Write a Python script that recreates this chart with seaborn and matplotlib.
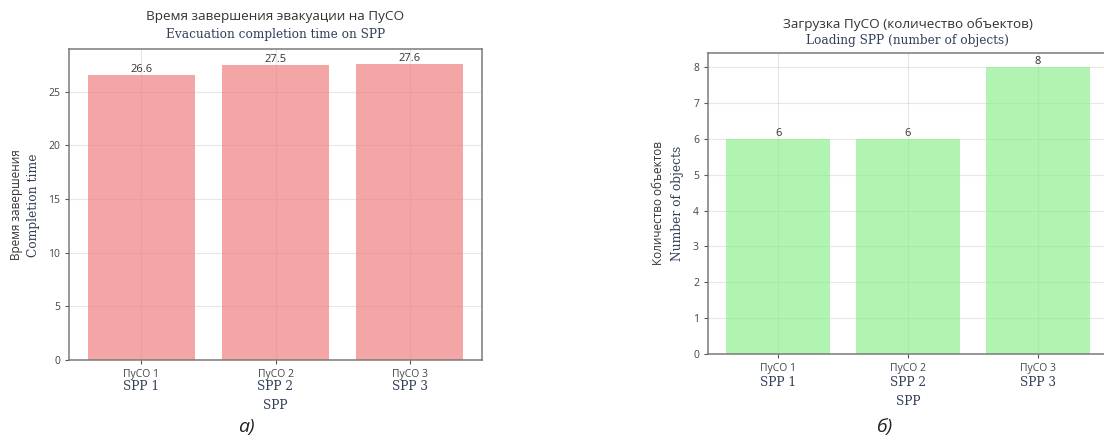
import matplotlib
matplotlib.use("Agg")
import matplotlib.pyplot as plt
import matplotlib.transforms as mtransforms
import seaborn as sns
import pandas as pd

# Data
spp_ru = ["ПуСО 1", "ПуСО 2", "ПуСО 3"]
spp_en = ["SPP 1", "SPP 2", "SPP 3"]
evac_time = [26.6, 27.5, 27.6]
load_count = [6, 6, 8]

sns.set_theme(style="ticks")
plt.rcParams["font.family"] = ["Open Sans", "DejaVu Sans"]

RU_COL = "#333333"
EN_COL = "#33405a"
SERIF = ["DejaVu Serif"]

fig = plt.figure(figsize=(11.04, 4.43), dpi=100)
ax1 = fig.add_axes([0.0625, 0.1874, 0.3741, 0.702])
ax2 = fig.add_axes([0.6413, 0.2009, 0.3623, 0.6795])


def draw_panel(ax, values, color, ru_title, en_title, fmt, title_y, tick_pad):
    df = pd.DataFrame({"spp": spp_ru, "value": values})
    sns.barplot(data=df, x="spp", y="value", color=color, alpha=0.7,
                width=0.8, linewidth=0, saturation=1, ax=ax, zorder=2)
    ax.set_xlim(-0.54, 2.54)
    ax.set_ylim(0, max(values) * 1.05)
    ax.set_axisbelow(True)
    ax.grid(True, color="#b0b0b0", alpha=0.3, linewidth=0.8)
    for s in ax.spines.values():
        s.set_visible(True)
        s.set_color("#7a7a7a")
        s.set_linewidth(1.1)
    ax.tick_params(axis="both", colors="#555555", labelcolor="#444444",
                   labelsize=7.5, length=3, width=0.8)
    ax.set_xlabel("")
    ax.set_ylabel("")

    # value labels on top of the bars
    for patch, v in zip(ax.patches, values):
        ax.text(patch.get_x() + patch.get_width() / 2, v, fmt.format(v),
                ha="center", va="bottom", fontsize=8, color="#333333")

    # English sub-labels under the category ticks
    trans = mtransforms.blended_transform_factory(ax.transData, ax.transAxes)
    for i, lab in enumerate(spp_en):
        ax.text(i, tick_pad, lab, transform=trans, ha="center", va="center",
                fontsize=8.7, family=SERIF, color=EN_COL)
    ax.text(1, tick_pad - 0.062, "SPP", transform=trans, ha="center",
            va="center", fontsize=8.7, family=SERIF, color=EN_COL)

    # two-language title
    ax.text(0.5, title_y, ru_title, transform=ax.transAxes, ha="center",
            va="center", fontsize=9.7, color=RU_COL)
    ax.text(0.5, title_y - 0.055, en_title, transform=ax.transAxes,
            ha="center", va="center", fontsize=8.7, family=SERIF,
            color=EN_COL)


draw_panel(ax1, evac_time, "lightcoral",
           "Время завершения эвакуации на ПуСО",
           "Evacuation completion time on SPP",
           "{:.1f}", 1.103, -0.085)
draw_panel(ax2, load_count, "lightgreen",
           "Загрузка ПуСО (количество объектов)",
           "Loading SPP (number of objects)",
           "{:d}", 1.095, -0.095)

# y-axis labels (two-language)
fig.text(17 / 1104, 1 - 205 / 443, "Время завершения", rotation=90,
         ha="center", va="center", fontsize=8.5, color=RU_COL)
fig.text(33 / 1104, 1 - 205 / 443, "Completion time", rotation=90,
         ha="center", va="center", fontsize=8.8, family=SERIF, color=EN_COL)
fig.text(658 / 1104, 1 - 203 / 443, "Количество объектов", rotation=90,
         ha="center", va="center", fontsize=8.5, color=RU_COL)
fig.text(677 / 1104, 1 - 203 / 443, "Number of objects", rotation=90,
         ha="center", va="center", fontsize=8.8, family=SERIF, color=EN_COL)

# panel captions
fig.text(246 / 1104, 1 - 427 / 443, "а)", ha="center", va="center",
         fontsize=14, style="italic", color="#222222")
fig.text(884 / 1104, 1 - 427 / 443, "б)", ha="center", va="center",
         fontsize=14, style="italic", color="#222222")

fig.savefig("out.png", dpi=100, facecolor="white")
